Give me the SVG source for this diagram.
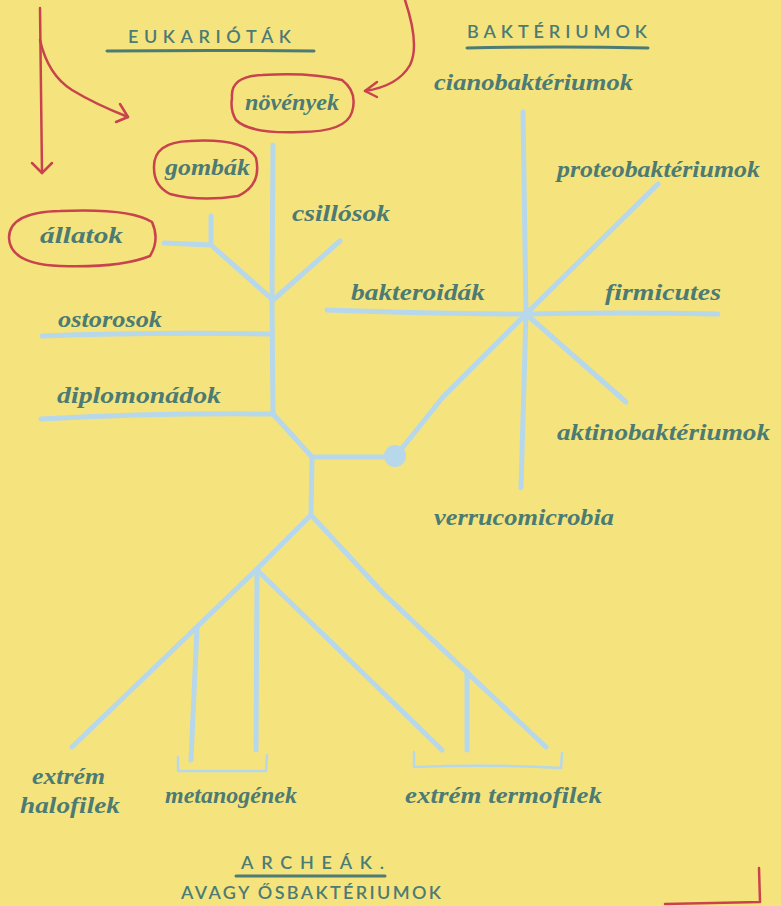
<svg xmlns="http://www.w3.org/2000/svg" width="781" height="906" viewBox="0 0 781 906">
<defs>
<style>
.bg{fill:#f5e47e}
.br{fill:none;stroke:#b7d7ea;stroke-width:5;stroke-linecap:round;stroke-linejoin:round}
.bk{fill:none;stroke:#b7d7ea;stroke-width:2.5;stroke-linecap:round;stroke-linejoin:round}
.red{fill:none;stroke:#c8434d;stroke-width:2.5;stroke-linecap:round;stroke-linejoin:round}
.lbl{font-family:"Liberation Serif","DejaVu Serif",serif;font-style:italic;font-weight:bold;font-size:24px;fill:#4c7b74}
.hd{font-family:"Lato","Liberation Sans",sans-serif;font-size:18px;font-weight:600;fill:#4c7b74}
.ul{fill:none;stroke:#4c7b74;stroke-width:3;stroke-linecap:round}
</style>
</defs>
<rect class="bg" x="0" y="0" width="781" height="906"/>

<g id="connectors">
  <!-- eukaryote tree -->
  <path class="br" d="M273 145 L272 300 L273 413"/>
  <path class="br" d="M273 300 L211 245 L164 243"/>
  <path class="br" d="M211 245 L211 216"/>
  <path class="br" d="M273 300 L340 241"/>
  <path class="br" d="M42 336 Q150 332 272 334"/>
  <path class="br" d="M41 419 Q150 413 272 414"/>
  <path class="br" d="M273 414 L312 457 L395 457"/>
  <!-- bacteria star -->
  <path class="br" d="M395 457 L443 397 L526 314"/>
  <path class="br" d="M523 112 L526 314 L521 488"/>
  <path class="br" d="M526 314 L658 184"/>
  <path class="br" d="M327 310 Q430 314 526 314 Q620 312 718 314"/>
  <path class="br" d="M526 314 L626 402"/>
  <circle cx="395" cy="456" r="11" fill="#b7d7ea"/>
  <!-- archaea tree -->
  <path class="br" d="M312 457 L311 515 L257 569 L72 747"/>
  <path class="br" d="M197 628 L191 760"/>
  <path class="br" d="M257 570 L256 750"/>
  <path class="br" d="M257 570 L442 750"/>
  <path class="br" d="M311 515 L383 593 L546 747"/>
  <path class="br" d="M467 672 L467 750"/>
  <path class="bk" d="M178 757 L178 771 L266 771 L267 755"/>
  <path class="bk" d="M414 752 L414 767 Q490 764 561 768 L562 753"/>
  <!-- red arrows -->
  <path class="red" d="M40 8 L42 173"/>
  <path class="red" d="M32 163 L42 173 L52 163"/>
  <path class="red" d="M40 40 Q48 75 72 90 Q95 104 128 117"/>
  <path class="red" d="M120 104 L128 117 L116 122"/>
  <path class="red" d="M405 0 Q420 45 410 65 Q398 86 365 91"/>
  <path class="red" d="M377 82 L365 91 L377 97"/>
  <path class="red" d="M665 904 L760 902 L759 868" stroke-width="3"/>
</g>

<g id="heading-eukariotak">
  <text class="hd" x="128" y="43" textLength="163" lengthAdjust="spacing">EUKARIÓTÁK</text>
  <path class="ul" d="M107 51 Q210 50 314 51"/>
</g>
<g id="heading-bakteriumok">
  <text class="hd" x="467" y="38" textLength="180" lengthAdjust="spacing">BAKTÉRIUMOK</text>
  <path class="ul" d="M467 48 Q560 46 648 48"/>
</g>
<g id="heading-archeak">
  <text class="hd" x="241" y="869" font-size="21" textLength="143" lengthAdjust="spacing">ARCHEÁK.</text>
  <path class="ul" d="M236 876 L385 876"/>
  <text class="hd" x="181" y="899" textLength="260" lengthAdjust="spacing">AVAGY ŐSBAKTÉRIUMOK</text>
</g>

<g id="node-novenyek">
  <path class="red" d="M232 98 Q230 76 262 75 Q310 72 342 80 Q358 92 352 112 Q346 132 300 132 Q250 134 236 120 Q230 110 232 98 Z"/>
  <text class="lbl" x="245" y="110" textLength="94" lengthAdjust="spacingAndGlyphs">növények</text>
</g>
<g id="node-gombak">
  <path class="red" d="M154 168 Q153 142 190 141 Q245 138 256 158 Q262 185 238 196 Q200 202 170 194 Q154 186 154 168 Z"/>
  <text class="lbl" x="165" y="175" textLength="85" lengthAdjust="spacingAndGlyphs">gombák</text>
</g>
<g id="node-allatok">
  <path class="red" d="M9 238 Q9 212 60 211 Q130 208 152 222 Q160 240 150 256 Q120 268 60 266 Q10 264 9 238 Z"/>
  <text class="lbl" x="40" y="243" textLength="83" lengthAdjust="spacingAndGlyphs">állatok</text>
</g>
<g id="node-csillosok"><text class="lbl" x="292" y="221" textLength="98" lengthAdjust="spacingAndGlyphs">csillósok</text></g>
<g id="node-ostorosok"><text class="lbl" x="58" y="327" textLength="104" lengthAdjust="spacingAndGlyphs">ostorosok</text></g>
<g id="node-diplomonadok"><text class="lbl" x="57" y="403" textLength="164" lengthAdjust="spacingAndGlyphs">diplomonádok</text></g>
<g id="node-cianobakteriumok"><text class="lbl" x="434" y="90" textLength="199" lengthAdjust="spacingAndGlyphs">cianobaktériumok</text></g>
<g id="node-proteobakteriumok"><text class="lbl" x="557" y="177" textLength="203" lengthAdjust="spacingAndGlyphs">proteobaktériumok</text></g>
<g id="node-bakteroidak"><text class="lbl" x="351" y="300" textLength="134" lengthAdjust="spacingAndGlyphs">bakteroidák</text></g>
<g id="node-firmicutes"><text class="lbl" x="605" y="300" textLength="116" lengthAdjust="spacingAndGlyphs">firmicutes</text></g>
<g id="node-aktinobakteriumok"><text class="lbl" x="557" y="440" textLength="213" lengthAdjust="spacingAndGlyphs">aktinobaktériumok</text></g>
<g id="node-verrucomicrobia"><text class="lbl" x="434" y="525" textLength="180" lengthAdjust="spacingAndGlyphs">verrucomicrobia</text></g>
<g id="node-halofilek">
  <text class="lbl" x="32" y="784" textLength="73" lengthAdjust="spacingAndGlyphs">extrém</text>
  <text class="lbl" x="20" y="813" textLength="100" lengthAdjust="spacingAndGlyphs">halofilek</text>
</g>
<g id="node-metanogenek"><text class="lbl" x="165" y="803" textLength="132" lengthAdjust="spacingAndGlyphs">metanogének</text></g>
<g id="node-termofilek"><text class="lbl" x="405" y="803" textLength="197" lengthAdjust="spacingAndGlyphs">extrém termofilek</text></g>
</svg>
